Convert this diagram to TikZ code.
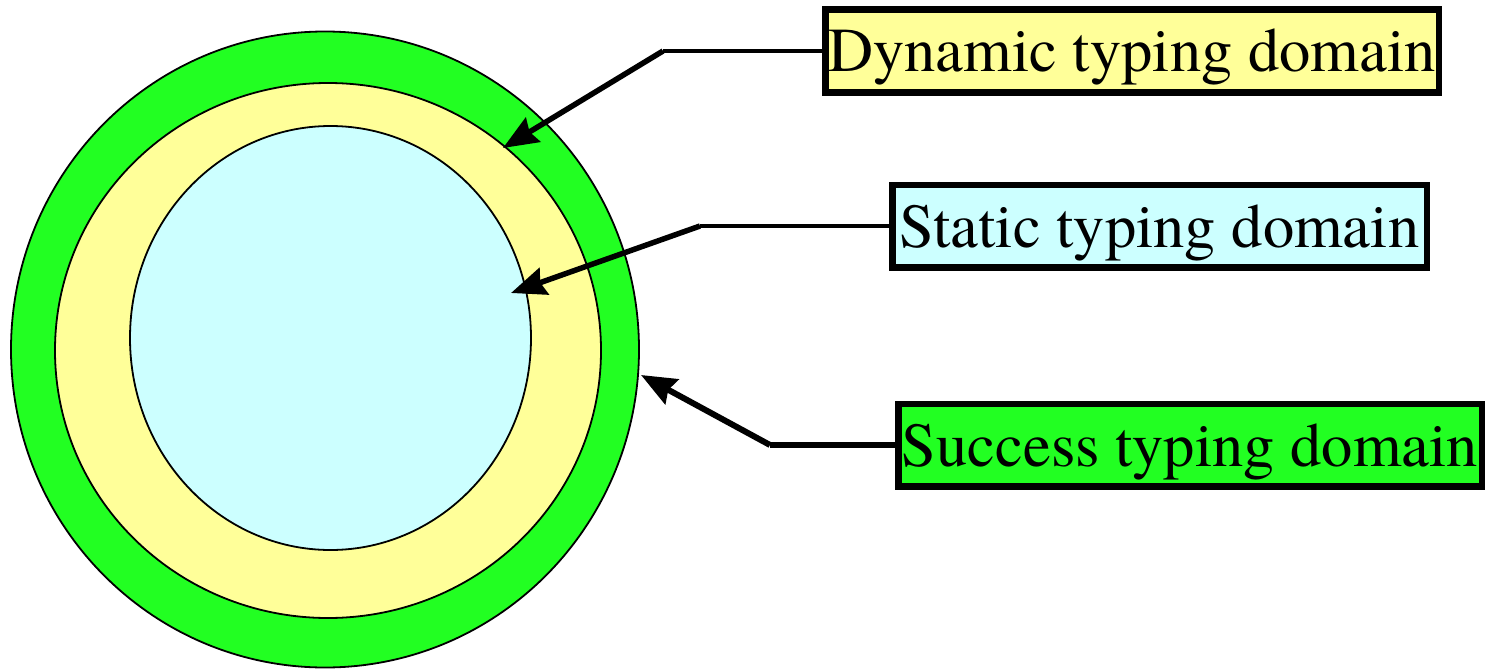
\documentclass[tikz,border=0pt]{standalone}
\usepackage{fontspec}
\setmainfont{texgyretermes}[Extension=.otf, UprightFont=*-regular]
\usetikzlibrary{arrows.meta}
\definecolor{sgreen}{RGB}{34,255,34}
\definecolor{dyellow}{RGB}{255,255,153}
\definecolor{scyan}{RGB}{204,255,255}
\begin{document}
\begin{tikzpicture}[x=1pt,y=-1pt,
  labelbox/.style={draw=black, line width=6.5pt, inner sep=0pt, anchor=center,
    text height=62.25pt, text depth=20.25pt, font=\fontsize{62.5}{62}\selectfont},
  region/.style={draw=black, line width=1.8pt},
  leadline/.style={draw=black, line width=4pt},
  leadarrow/.style={draw=black, line width=5.5pt, line cap=butt,
    -{Stealth[length=35pt,width=28pt,inset=4pt]}}]
\useasboundingbox (0,0) rectangle (1497,669);
% nested domains
\draw[region, fill=sgreen] (325,349.5) ellipse [x radius=314pt, y radius=318pt];
\draw[region, fill=dyellow] (328,350.5) ellipse [x radius=273pt, y radius=267.5pt];
\draw[region, fill=scyan] (330.5,338) ellipse [x radius=200.5pt, y radius=212pt];
% label boxes
\node[labelbox, fill=dyellow, minimum width=613.5pt] (dyn) at (1132,51) {Dynamic typing domain};
\node[labelbox, fill=scyan, minimum width=534.5pt] (stat) at (1159.5,226) {Static typing domain};
\node[labelbox, fill=sgreen, minimum width=583.5pt] (succ) at (1190,445) {Success typing domain};
% leader points
\coordinate (dynelbow) at (663,52);
\coordinate (dyntip) at (503,148);
\coordinate (statelbow) at (700,227);
\coordinate (stattip) at (511,293);
\coordinate (succelbow) at (770,447);
\coordinate (succtip) at (641,375);
% leaders
\draw[leadline] (dyn.west) -- (dyn.west -| dynelbow);
\draw[leadarrow] (dyn.west -| dynelbow) -- (dyntip);
\draw[leadline] (stat.west) -- (stat.west -| statelbow);
\draw[leadarrow] (stat.west -| statelbow) -- (stattip);
\draw[leadline, line width=6pt] (succ.west) -- (succ.west -| succelbow);
\draw[leadarrow, line width=6pt] (succ.west -| succelbow) -- (succtip);
\end{tikzpicture}
\end{document}
